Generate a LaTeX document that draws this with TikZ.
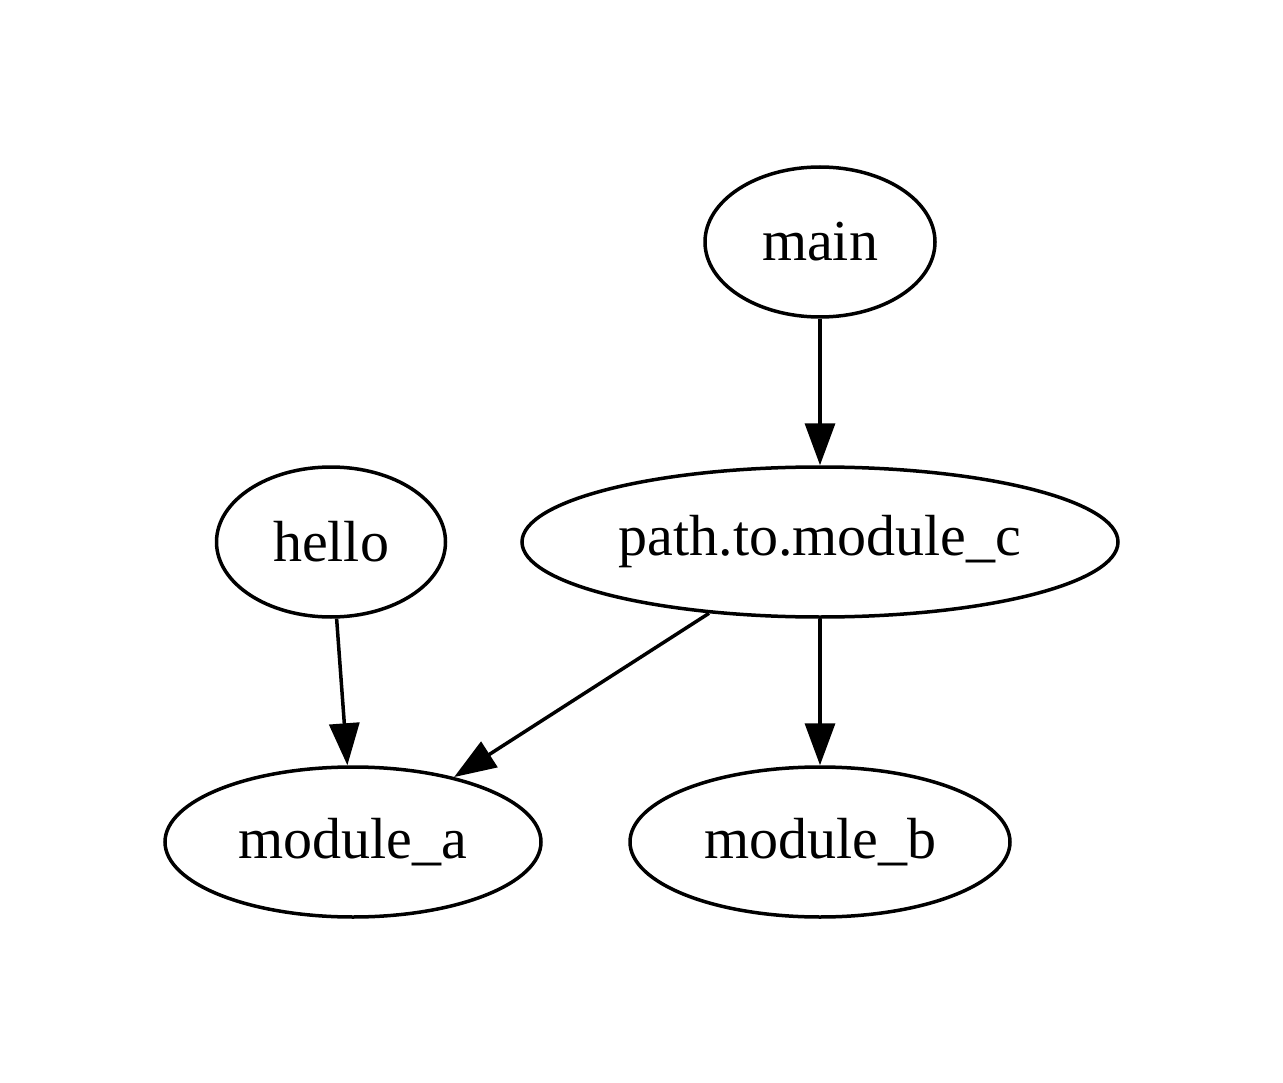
\documentclass[tikz,border=0pt]{standalone}
\usepackage{fontspec}
\setmainfont{Liberation Serif}
\usetikzlibrary{shapes.geometric,arrows.meta}
\begin{document}
\begin{tikzpicture}[x=1pt,y=-1pt,
  modnode/.style={ellipse,draw,line width=3.5pt,inner sep=0pt,
    font=\fontsize{58}{70}\selectfont},
  dep/.style={line width=3.5pt,-{Triangle[length=42pt,width=30pt]}}]
  \useasboundingbox[fill=white] (0,0) rectangle (1283,1083);
  \node[modnode,minimum width=230pt,minimum height=150pt] (main) at (820,242) {main};
  \node[modnode,minimum width=596pt,minimum height=150pt] (pathc) at (820,542) {path.to.module\_c};
  \node[modnode,minimum width=229pt,minimum height=150pt] (hello) at (331,542) {hello};
  \node[modnode,minimum width=376pt,minimum height=150pt] (moda) at (353,842) {module\_a};
  \node[modnode,minimum width=380pt,minimum height=150pt] (modb) at (820,842) {module\_b};
  \draw[dep] (main) -- (pathc);
  \draw[dep] (hello) -- (moda);
  \draw[dep] (pathc) -- (moda);
  \draw[dep] (pathc) -- (modb);
\end{tikzpicture}
\end{document}
